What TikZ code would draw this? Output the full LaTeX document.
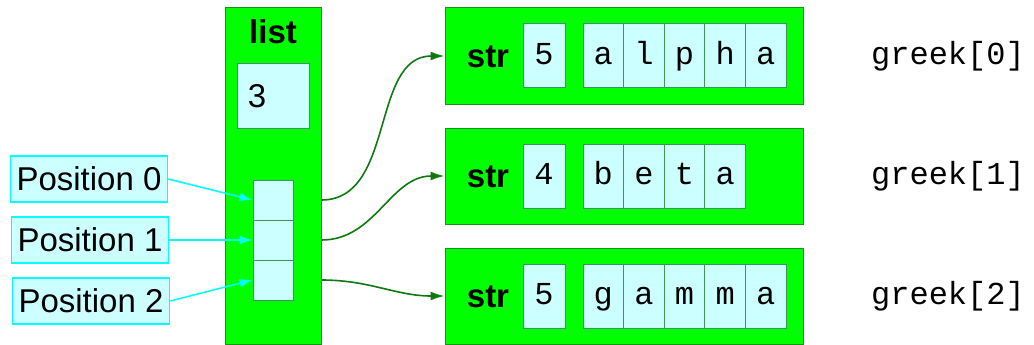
\documentclass[tikz,border=0pt]{standalone}
\usepackage{fontspec}
\setmainfont{Liberation Sans}
\setmonofont{Liberation Mono}
\usetikzlibrary{calc,arrows.meta,positioning}
\definecolor{boxgreen}{RGB}{0,255,0}
\definecolor{edgegreen}{RGB}{20,150,20}
\definecolor{arrowgreen}{RGB}{16,120,16}
\definecolor{cellfill}{RGB}{204,255,255}
\definecolor{celledge}{RGB}{60,150,90}
\definecolor{poscyan}{RGB}{0,255,255}
\tikzset{
  big/.style={font=\fontsize{33}{40}\selectfont, text height=23.5pt, text depth=0pt, inner sep=0pt},
  objbox/.style={draw=edgegreen, fill=boxgreen, line width=1pt, inner sep=0pt},
  cellbox/.style={draw=celledge, fill=cellfill, line width=1pt, inner sep=0pt},
  chartext/.style={font=\fontsize{32}{38}\selectfont\ttfamily, text height=22.4pt, text depth=4.5pt, inner sep=0pt},
  labtext/.style={big, font=\fontsize{33}{40}\selectfont\bfseries},
  posbox/.style={draw=poscyan, fill=cellfill, line width=1.5pt, minimum width=157pt, minimum height=46pt, big},
  garrow/.style={draw=arrowgreen, line width=1.6pt, -{Latex[length=14pt,width=9pt]}},
  carrow/.style={draw=poscyan, line width=1.6pt, -{Latex[length=13pt,width=9pt]}}
}
\begin{document}
\begin{tikzpicture}[x=1pt, y=-1pt]
    \useasboundingbox (0,0) rectangle (1034,345);
    % list object
    \node[objbox, minimum width=96pt, minimum height=336pt] (lst) at (273,176) {};
    \node[labtext] (lt) at (273,32) {list};
    \node[cellbox, minimum width=72pt, minimum height=64pt] (len) at (273,96) {};
    \node[big] (lv) at (257,96) {3};
    \foreach \k in {0,1,2} {
      \node[cellbox, minimum width=40pt, minimum height=40pt] (c\k) at (273,{200+40*\k}) {};
      \coordinate (a\k) at (lst.east |- c\k);
    }
    % position labels
    \foreach \k/\x/\y in {0/89/179,1/90/240,2/91/301} {
      \node[posbox] (p\k) at (\x,\y) {Position \k};
      \draw[carrow] (p\k.east) -- (c\k.west);
    }
    % str objects
    \foreach \k/\y/\n/\w in {0/56/5/{a,l,p,h,a},1/176/4/{b,e,t,a},2/296/5/{g,a,m,m,a}} {
      \node[objbox, minimum width=358pt, minimum height=96pt] (s\k) at (624,\y) {};
      \node[labtext] (t\k) at (488,\y) {str};
      \node[cellbox, minimum width=42pt, minimum height=64pt] (n\k) at (544,\y) {};
      \node[chartext] at (n\k) {\n};
      \foreach \ch [count=\i] in \w {
        \node[cellbox, minimum width=40.6pt, minimum height=64pt] (s\k c\i) at ({562.7+40.6*\i},\y) {};
        \node[chartext] at (s\k c\i) {\ch};
      }
      \node[chartext] (g\k) at (948,\y) {greek[\k]};
      \draw[garrow] (a\k) to[out=0, in=180] (s\k.west);
    }
  \end{tikzpicture}
\end{document}
